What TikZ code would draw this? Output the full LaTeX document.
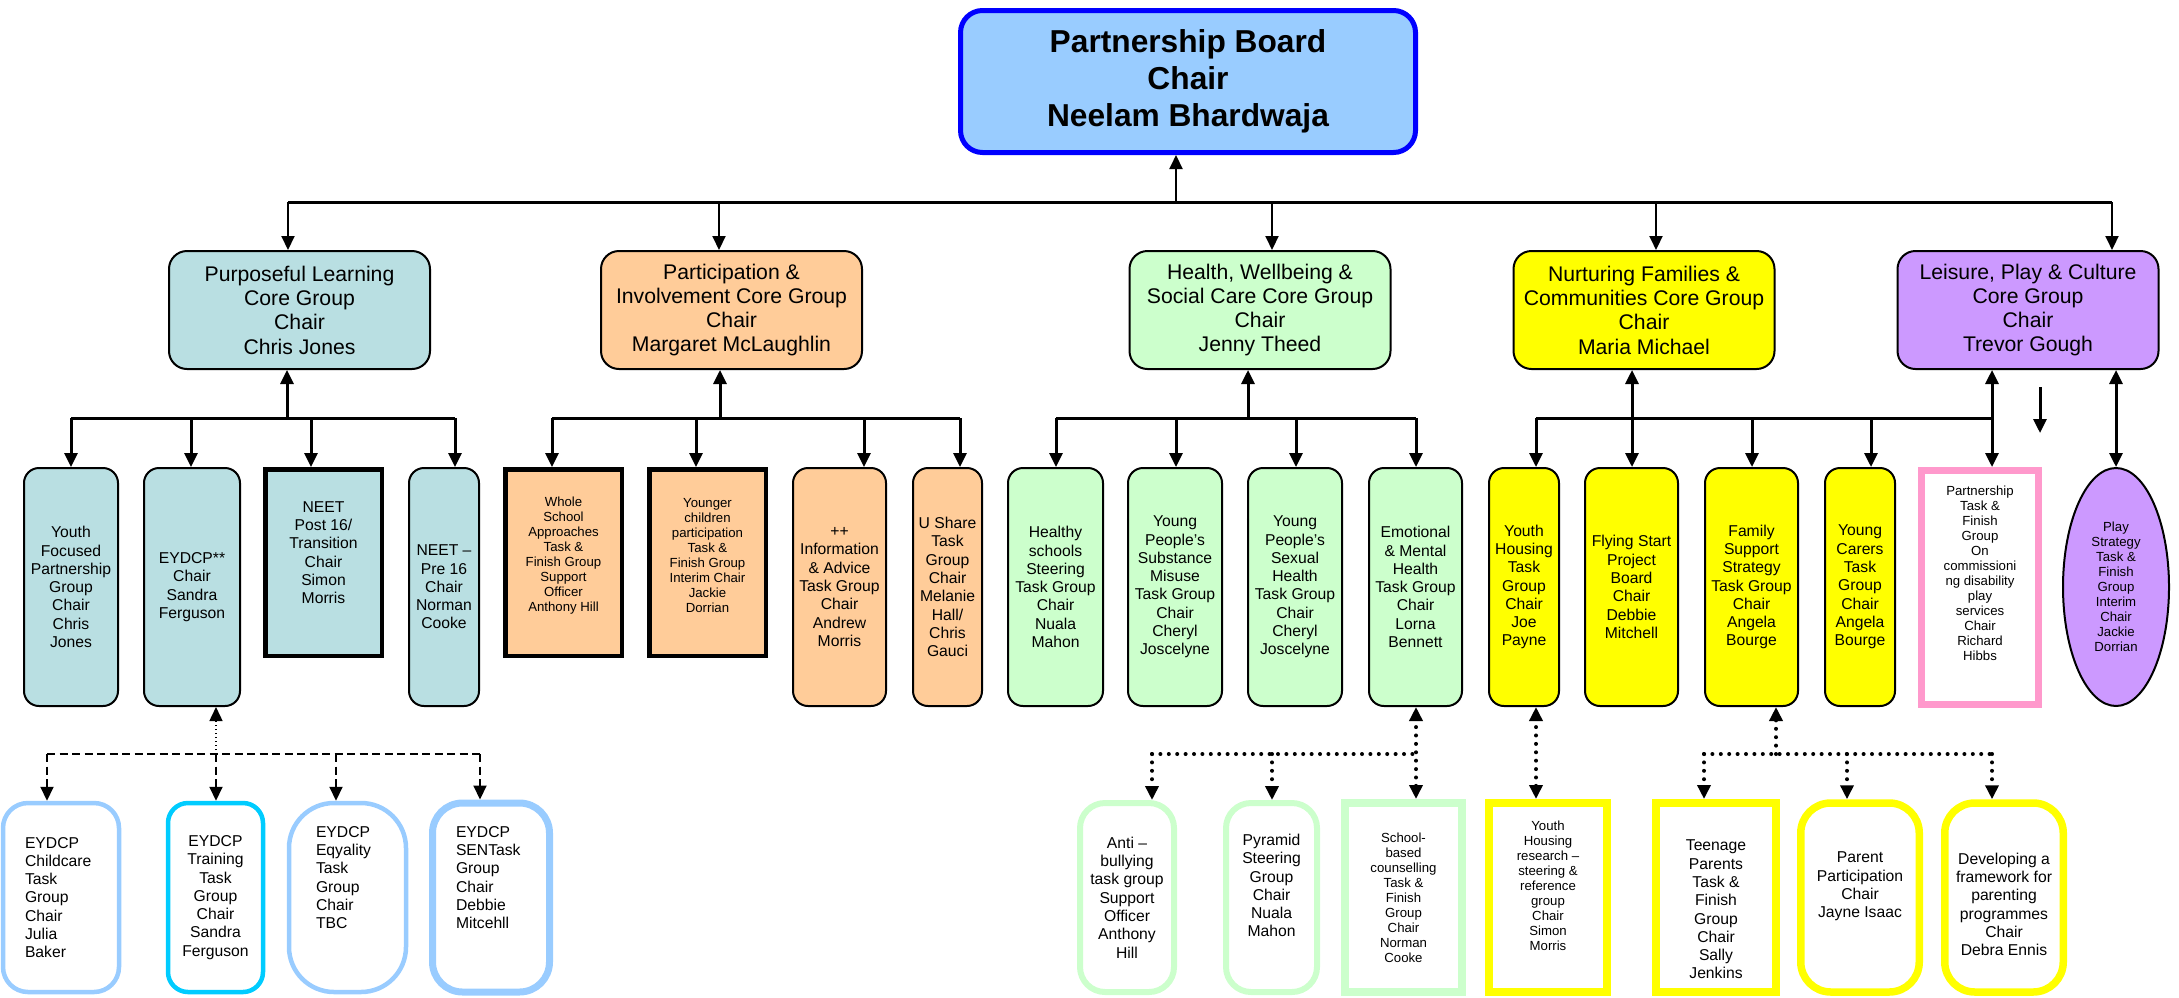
\documentclass[tikz,border=0pt]{standalone}
\usepackage{fontspec}
\setmainfont{Liberation Sans}
\usetikzlibrary{positioning,arrows.meta,shapes.geometric}
\definecolor{boardfill}{HTML}{99CCFF}
\definecolor{boardline}{HTML}{0000FF}
\definecolor{learnfill}{HTML}{B9DFE2}
\definecolor{partfill}{HTML}{FFCC99}
\definecolor{healthfill}{HTML}{CCFFCC}
\definecolor{nurturefill}{HTML}{FFFF00}
\definecolor{leisurefill}{HTML}{CC99FF}
\definecolor{pinkline}{HTML}{FF99CC}
\definecolor{eyline}{HTML}{99CCFF}
\definecolor{cyanline}{HTML}{00CCFF}
\newcommand{\boardfont}{\fontsize{31.7}{37}\selectfont\bfseries}
\newcommand{\corefont}{\fontsize{21.2}{24.3}\selectfont}
\newcommand{\groupfont}{\fontsize{15.7}{18.3}\selectfont}
\newcommand{\smallgroupfont}{\fontsize{13.2}{15}\selectfont}
% invisible struts to nudge text up (depth) or down (height)
\newcommand{\liftby}[1]{\vrule width 0pt height 0pt depth #1}
\newcommand{\sinkby}[1]{\vrule width 0pt height #1 depth 0pt}

\begin{document}
\begin{tikzpicture}[x=1pt, y=-1pt,
    >={Triangle[length=14pt,width=13pt]},
    board/.style={draw=boardline, fill=boardfill, line width=5pt, rounded corners=22pt,
        minimum width=455pt, minimum height=142pt, align=center, font=\boardfont},
    core/.style={draw, line width=2pt, rounded corners=18pt, minimum width=261pt,
        minimum height=118pt, align=center, font=\corefont, inner sep=2pt},
    group/.style={draw, line width=2pt, rounded corners=15pt, minimum height=238pt,
        align=center, font=\groupfont, inner sep=1pt},
    taskbox/.style={draw, line width=4.5pt, minimum width=116.5pt, minimum height=186.5pt,
        align=center, inner sep=1pt},
    subgroup/.style={fill=white, minimum height=189pt, align=center, font=\groupfont, inner sep=1pt},
    bus/.style={line width=3pt},
    link/.style={line width=2pt},
    sublink/.style={line width=3pt},
    dashlink/.style={line width=2pt, dash pattern=on 8pt off 4.5pt},
    finedots/.style={line width=1.5pt, dash pattern=on 1.5pt off 2.5pt},
    dots/.style={line width=4pt, line cap=round, dash pattern=on 0pt off 8.4pt}]
    \useasboundingbox (0,0) rectangle (2179,997);

    \node[board] (pb) at (1188,81.5) {Partnership Board\\Chair\\Neelam Bhardwaja};

    \node[core, fill=learnfill] (pl) at (299.5,310) {Purposeful Learning\\Core Group\\Chair\\Chris Jones};
    \node[core, fill=partfill] (pi) at (731.5,310) {Participation \&\\Involvement Core Group\\Chair\\Margaret McLaughlin};
    \node[core, fill=healthfill] (hw) at (1260,310) {Health, Wellbeing \&\\Social Care Core Group\\Chair\\Jenny Theed};
    \node[core, fill=nurturefill] (nf) at (1644,310) {Nurturing Families \&\\Communities Core Group\\Chair\\Maria Michael};
    \node[core, fill=leisurefill] (lp) at (2028,310) {Leisure, Play \& Culture\\Core Group\\Chair\\Trevor Gough};

    % purposeful learning
    \node[group, fill=learnfill, minimum width=94pt] (yf) at (71,587) {Youth\\Focused\\Partnership\\Group\\Chair\\Chris\\Jones};
    \node[group, fill=learnfill, minimum width=96pt] (ey) at (192,587) {EYDCP**\\Chair\\Sandra\\Ferguson};
    \node[taskbox, fill=learnfill, font=\groupfont] (np) at (323.5,562.5) {NEET\\Post 16/\\Transition\\Chair\\Simon\\Morris\liftby{20pt}};
    \node[group, fill=learnfill, minimum width=70pt] (nq) at (444,587) {NEET –\\Pre 16\\Chair\\Norman\\Cooke};

    % participation
    \node[taskbox, fill=partfill, font=\smallgroupfont] (ws) at (563.5,562.5) {Whole\\School\\Approaches\\Task \&\\Finish Group\\Support\\Officer\\Anthony Hill\liftby{17pt}};
    \node[taskbox, fill=partfill, font=\smallgroupfont] (yc) at (707.5,562.5) {Younger\\children\\participation\\Task \&\\Finish Group\\Interim Chair\\Jackie\\Dorrian\liftby{14pt}};
    \node[group, fill=partfill, minimum width=93pt] (ia) at (839.5,587) {++\\Information\\\& Advice\\Task Group\\Chair\\Andrew\\Morris};
    \node[group, fill=partfill, minimum width=69pt] (us) at (947.5,587) {U Share\\Task\\Group\\Chair\\Melanie\\Hall/\\Chris\\Gauci};

    % health
    \node[group, fill=healthfill, minimum width=95pt] (hs) at (1055.5,587) {Healthy\\schools\\Steering\\Task Group\\Chair\\Nuala\\Mahon};
    \node[group, fill=healthfill, minimum width=94pt] (ys) at (1175,587) {Young\\People’s\\Substance\\Misuse\\Task Group\\Chair\\Cheryl\\Joscelyne};
    \node[group, fill=healthfill, minimum width=94pt] (yx) at (1295,587) {Young\\People’s\\Sexual\\Health\\Task Group\\Chair\\Cheryl\\Joscelyne};
    \node[group, fill=healthfill, minimum width=93pt] (em) at (1415.5,587) {Emotional\\\& Mental\\Health\\Task Group\\Chair\\Lorna\\Bennett};

    % nurturing families
    \node[group, fill=nurturefill, minimum width=70pt] (yh) at (1524,587) {Youth\\Housing\\Task\\Group\\Chair\\Joe\\Payne};
    \node[group, fill=nurturefill, minimum width=93pt] (fs) at (1631.5,587) {Flying Start\\Project\\Board\\Chair\\Debbie\\Mitchell};
    \node[group, fill=nurturefill, minimum width=93pt] (fa) at (1751.5,587) {Family\\Support\\Strategy\\Task Group\\Chair\\Angela\\Bourge};
    \node[group, fill=nurturefill, minimum width=70pt] (yg) at (1860,587) {Young\\Carers\\Task\\Group\\Chair\\Angela\\Bourge};
    \node[draw=pinkline, fill=white, line width=7pt, minimum width=117pt, minimum height=234pt,
        align=center, font=\smallgroupfont, inner sep=1pt] (pt) at (1980,587.5)
        {Partnership\\Task \&\\Finish\\Group\\On\\commissioni\\ng disability\\play\\services\\Chair\\Richard\\Hibbs\liftby{28pt}};
    \node[draw, ellipse, fill=leisurefill, line width=2pt, minimum width=106pt, minimum height=238pt,
        inner sep=0pt, align=center, font=\smallgroupfont] (ps) at (2116,587)
        {Play\\Strategy\\Task \&\\Finish\\Group\\Interim\\Chair\\Jackie\\Dorrian};

    % EYDCP groups
    \node[subgroup, draw=eyline, line width=4.5pt, rounded corners=25pt, minimum width=116pt,
        align=left, text width=72pt, inner xsep=22pt] (ec) at (61,897.5) {EYDCP\\Childcare\\Task\\Group\\Chair\\Julia\\Baker};
    \node[subgroup, draw=cyanline, line width=4.5pt, rounded corners=20pt, minimum width=95pt] (et) at (215.5,897.5) {EYDCP\\Training\\Task\\Group\\Chair\\Sandra\\Ferguson};
    \node[subgroup, draw=eyline, line width=4.5pt, rounded corners=45pt, minimum width=117pt,
        align=left, text width=63pt, inner xsep=27pt] (eq) at (347.5,897.5) {EYDCP\\Eqyality\\Task\\Group\\Chair\\TBC\liftby{40pt}};
    \node[subgroup, draw=eyline, line width=7pt, rounded corners=30pt, minimum width=117pt,
        align=left, text width=70pt, inner xsep=23.5pt] (es) at (491,897.5) {EYDCP\\SENTask\\Group\\Chair\\Debbie\\Mitcehll\liftby{40pt}};

    % health task groups
    \node[subgroup, draw=healthfill, line width=6pt, rounded corners=25pt, minimum width=94pt] (ab) at (1127,897.5) {Anti –\\bullying\\task group\\Support\\Officer\\Anthony\\Hill};
    \node[subgroup, draw=healthfill, line width=6pt, rounded corners=25pt, minimum width=91pt] (py) at (1271.5,897.5) {Pyramid\\Steering\\Group\\Chair\\Nuala\\Mahon\liftby{24pt}};
    \node[subgroup, draw=healthfill, line width=8pt, minimum width=117pt, font=\smallgroupfont] (sb) at (1403.5,897.5) {School-\\based\\counselling\\Task \&\\Finish\\Group\\Chair\\Norman\\Cooke};

    % nurturing task groups
    \node[subgroup, draw=nurturefill, line width=8pt, minimum width=118pt, font=\smallgroupfont] (yr) at (1548,897.5) {Youth\\Housing\\research –\\steering \&\\reference\\group\\Chair\\Simon\\Morris\liftby{24pt}};
    \node[subgroup, draw=nurturefill, line width=8pt, minimum width=120pt] (tp) at (1716,897.5) {\sinkby{35pt}Teenage\\Parents\\Task \&\\Finish\\Group\\Chair\\Sally\\Jenkins};
    \node[subgroup, draw=nurturefill, line width=7.5pt, rounded corners=30pt, minimum width=118.5pt] (pp) at (1860,897.5) {Parent\\Participation\\Chair\\Jayne Isaac\liftby{25pt}};
    \node[subgroup, draw=nurturefill, line width=7.5pt, rounded corners=30pt, minimum width=118.5pt] (dv) at (2004,897.5) {\sinkby{25pt}Developing a\\framework for\\parenting\\programmes\\Chair\\Debra Ennis};

    % board to core groups
    \coordinate (b0) at (1176,202);
    \coordinate (b1) at (288,202);
    \coordinate (b2) at (719,202);
    \coordinate (b3) at (1272,202);
    \coordinate (b4) at (1656,202);
    \coordinate (b5) at (2112,202);
    \draw[bus] (b1) -- (b5);
    \draw[link,->] (b0) -- (b0 |- pb.south);
    \draw[link,->] (b1) -- (b1 |- pl.north);
    \draw[link,->] (b2) -- (b2 |- pi.north);
    \draw[link,->] (b3) -- (b3 |- hw.north);
    \draw[link,->] (b4) -- (b4 |- nf.north);
    \draw[link,->] (b5) -- (b5 |- lp.north);

    % core groups to task groups
    \coordinate (p0) at (287,418);
    \coordinate (p1) at (71,418);
    \coordinate (p2) at (191,418);
    \coordinate (p3) at (311,418);
    \coordinate (p4) at (455,418);
    \draw[sublink] (p1) -- (p4);
    \draw[sublink,->] (p0) -- (p0 |- pl.south);
    \draw[sublink,->] (p1) -- (p1 |- yf.north);
    \draw[sublink,->] (p2) -- (p2 |- ey.north);
    \draw[sublink,->] (p3) -- (p3 |- np.north);
    \draw[sublink,->] (p4) -- (p4 |- nq.north);

    \coordinate (q0) at (720,418);
    \coordinate (q1) at (552,418);
    \coordinate (q2) at (696,418);
    \coordinate (q3) at (864,418);
    \coordinate (q4) at (960,418);
    \draw[sublink] (q1) -- (q4);
    \draw[sublink,->] (q0) -- (q0 |- pi.south);
    \draw[sublink,->] (q1) -- (q1 |- ws.north);
    \draw[sublink,->] (q2) -- (q2 |- yc.north);
    \draw[sublink,->] (q3) -- (q3 |- ia.north);
    \draw[sublink,->] (q4) -- (q4 |- us.north);

    \coordinate (h0) at (1248,418);
    \coordinate (h1) at (1056,418);
    \coordinate (h2) at (1176,418);
    \coordinate (h3) at (1296,418);
    \coordinate (h4) at (1416,418);
    \draw[sublink] (h1) -- (h4);
    \draw[sublink,->] (h0) -- (h0 |- hw.south);
    \draw[sublink,->] (h1) -- (h1 |- hs.north);
    \draw[sublink,->] (h2) -- (h2 |- ys.north);
    \draw[sublink,->] (h3) -- (h3 |- yx.north);
    \draw[sublink,->] (h4) -- (h4 |- em.north);

    \coordinate (n1) at (1536,418);
    \coordinate (n2) at (1632,418);
    \coordinate (n3) at (1752,418);
    \coordinate (n4) at (1871,418);
    \coordinate (n5) at (1992,418);
    \draw[sublink] (n1) -- (n5);
    \draw[sublink,<->] (n2 |- fs.north) -- (n2 |- nf.south);
    \draw[sublink,<->] (n5 |- pt.north) -- (n5 |- lp.south);
    \draw[sublink,->] (n1) -- (n1 |- yh.north);
    \draw[sublink,->] (n3) -- (n3 |- fa.north);
    \draw[sublink,->] (n4) -- (n4 |- yg.north);
    \draw[sublink,<->] (ps.north) -- (ps.north |- lp.south);
    \coordinate (s1) at (2040,387);
    \coordinate (s2) at (2040,433);
    \draw[sublink,->] (s1) -- (s2);

    % task groups to sub groups
    \coordinate (e0) at (216,754);
    \coordinate (e1) at (47,754);
    \coordinate (e3) at (336,754);
    \coordinate (e4) at (480,754);
    \draw[finedots,->] (e0) -- (e0 |- ey.south);
    \draw[dashlink] (e1) -- (e4);
    \draw[dashlink,->] (e1) -- (e1 |- ec.north);
    \draw[dashlink,->] (e0) -- (e0 |- et.north);
    \draw[dashlink,->] (e3) -- (e3 |- eq.north);
    \draw[dashlink,->] (e4) -- (e4 |- es.north);

    \coordinate (m0) at (1416,754);
    \coordinate (m1) at (1152,754);
    \coordinate (m2) at (1272,754);
    \draw[dots] (m1) -- (m0);
    \draw[dots,<->] (m0 |- sb.north) -- (m0 |- em.south);
    \draw[dots,->] (m1) -- (m1 |- ab.north);
    \draw[dots,->] (m2) -- (m2 |- py.north);

    \coordinate (r0) at (1536,754);
    \draw[dots,<->] (r0 |- yr.north) -- (r0 |- yh.south);

    \coordinate (f0) at (1776,754);
    \coordinate (f1) at (1704,754);
    \coordinate (f2) at (1847,754);
    \coordinate (f3) at (1992,754);
    \draw[dots] (f1) -- (f3);
    \draw[dots,->] (f0) -- (f0 |- fa.south);
    \draw[dots,->] (f1) -- (f1 |- tp.north);
    \draw[dots,->] (f2) -- (f2 |- pp.north);
    \draw[dots,->] (f3) -- (f3 |- dv.north);
\end{tikzpicture}
\end{document}
